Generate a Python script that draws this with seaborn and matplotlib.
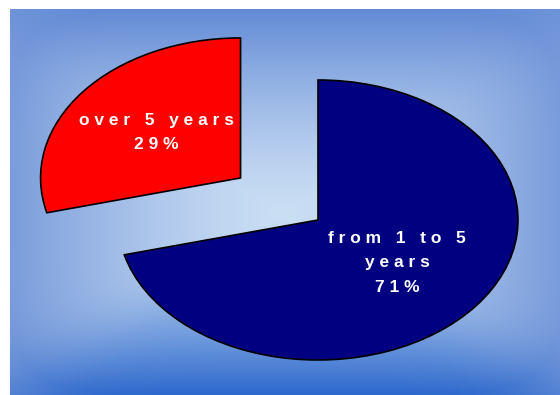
import numpy as np
import matplotlib
matplotlib.use('Agg')
import matplotlib.pyplot as plt
import seaborn as sns

# Data
labels = ['from 1 to 5\nyears', 'over 5 years']
shares = [71, 29]
slice_colors = ['#000080', '#FF0000']

sns.set_theme(style='white')
plt.rcParams['font.family'] = ['Liberation Sans', 'DejaVu Sans']


def spaced(s):
    # the original text is drawn with wide letter spacing
    return '\n'.join(' '.join(line) for line in s.split('\n'))


fig = plt.figure(figsize=(5.6, 3.95), dpi=100)
fig.patch.set_facecolor('white')
ax = fig.add_axes([10 / 560, 0, 550 / 560, 386 / 395])

# limits chosen so the pie is drawn as an ellipse (200 px wide, 140 px tall radius)
xlim = (-1.54, 1.21)
ylim = (-1.25, 1.507)

# background: light centre fading to blue edges
h, w = 386, 550
yy, xx = np.mgrid[0:h, 0:w]
cx, cy = 275, 205
tx = np.abs(xx - cx) / 275
ty = np.where(yy < cy, (cy - yy) / 205, (yy - cy) / 181)
k = 6
t = np.clip((tx ** k + ty ** k) ** (1 / k), 0, 1) ** 1.4
wv = (ty ** k / (tx ** k + ty ** k + 1e-9))[..., None]
centre = np.array([202, 222, 244]) / 255
top_edge = np.array([98, 138, 213]) / 255
side_edge = np.array([122, 156, 219]) / 255
bottom_edge = np.array([44, 104, 204]) / 255
vert_edge = np.where((yy < cy)[..., None], top_edge, bottom_edge)
edge = wv * vert_edge + (1 - wv) * side_edge
img = centre + (edge - centre) * t[..., None]
ax.imshow(img, extent=(xlim[0], xlim[1], ylim[0], ylim[1]), aspect='auto',
          origin='upper', zorder=0)

wedges, _ = ax.pie(shares, colors=slice_colors, startangle=90, counterclock=False,
                   explode=[0, 0.49], wedgeprops=dict(edgecolor='black', linewidth=1.2))
for wdg in wedges:
    wdg.set_zorder(2)

label_dist = [0.5, 0.53]
for wdg, lab, pct, d in zip(wedges, labels, shares, label_dist):
    ang = np.deg2rad((wdg.theta1 + wdg.theta2) / 2)
    x = wdg.center[0] + d * np.cos(ang)
    y = wdg.center[1] + d * np.sin(ang)
    ax.text(x, y, spaced(lab + '\n' + str(pct) + '%'), color='white',
            fontsize=12.5, fontweight='bold', ha='center', va='center',
            linespacing=1.8, zorder=3)

ax.set_aspect('auto')
ax.set_xlim(*xlim)
ax.set_ylim(*ylim)
ax.axis('off')

fig.savefig('out.png', dpi=100, facecolor='white')
